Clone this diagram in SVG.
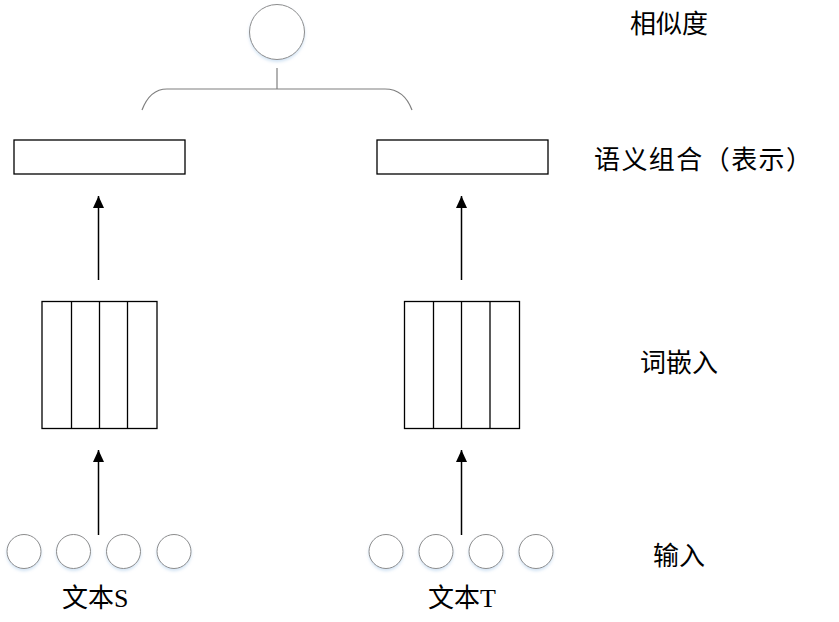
<svg xmlns="http://www.w3.org/2000/svg" width="839" height="622" viewBox="0 0 839 622">
<style>
.bg{fill:#fff}
.circ{fill:#fff;stroke:#8c8c8c;stroke-width:1;filter:url(#sh)}
.box{fill:#fff;stroke:#000;stroke-width:1.3}
.div{stroke:#000;stroke-width:1.3}
.edge{stroke:#000;stroke-width:1.5;fill:none}
.bracket{stroke:#7f7f7f;stroke-width:1.2;fill:none}
.lbl{font-family:"Liberation Serif","Noto Sans CJK SC",serif;font-size:26px;fill:#000}
</style>
<defs>
<marker id="ah" markerWidth="12" markerHeight="11" refX="12" refY="5.5" orient="auto" markerUnits="userSpaceOnUse" viewBox="0 0 12 11">
<path d="M0,0 L12,5.5 L0,11 z" fill="#000"/>
</marker>
<filter id="sh" x="-30%" y="-30%" width="160%" height="170%">
<feDropShadow dx="0" dy="2" stdDeviation="1.5" flood-color="#9fc3e6" flood-opacity="0.45"/>
</filter>
</defs>
<rect class="bg" x="0" y="0" width="839" height="622"/>

<g id="similarity">
<circle class="circ" cx="277" cy="32" r="27.5"/>
</g>

<g id="compose-S">
<rect class="box" x="14" y="140" width="171" height="34"/>
</g>
<g id="compose-T">
<rect class="box" x="377" y="140" width="171" height="34"/>
</g>

<g id="embed-S">
<rect class="box" x="42" y="301.5" width="115" height="127"/>
<line class="div" x1="71.5" y1="301.5" x2="71.5" y2="428.5"/>
<line class="div" x1="99.5" y1="301.5" x2="99.5" y2="428.5"/>
<line class="div" x1="127.5" y1="301.5" x2="127.5" y2="428.5"/>
</g>
<g id="embed-T">
<rect class="box" x="404.5" y="301.5" width="115" height="127"/>
<line class="div" x1="433.5" y1="301.5" x2="433.5" y2="428.5"/>
<line class="div" x1="461.5" y1="301.5" x2="461.5" y2="428.5"/>
<line class="div" x1="490" y1="301.5" x2="490" y2="428.5"/>
</g>

<g id="input-S">
<circle class="circ" cx="24" cy="551.5" r="17"/>
<circle class="circ" cx="73.5" cy="551.5" r="17"/>
<circle class="circ" cx="123.5" cy="551.5" r="17"/>
<circle class="circ" cx="174" cy="551.5" r="17"/>
</g>
<g id="input-T">
<circle class="circ" cx="386" cy="551.5" r="17"/>
<circle class="circ" cx="436" cy="551.5" r="17"/>
<circle class="circ" cx="486" cy="551.5" r="17"/>
<circle class="circ" cx="536" cy="551.5" r="17"/>
</g>

<g id="connectors">
<line class="bracket" x1="277" y1="68" x2="277" y2="89"/>
<path class="bracket" d="M142,110 Q150,89 167,89 H385 Q404,89 412,110"/>
<line class="edge" x1="98.5" y1="280" x2="98.5" y2="196" marker-end="url(#ah)"/>
<line class="edge" x1="461.5" y1="280" x2="461.5" y2="196" marker-end="url(#ah)"/>
<line class="edge" x1="98.5" y1="535" x2="98.5" y2="450" marker-end="url(#ah)"/>
<line class="edge" x1="461.5" y1="535" x2="461.5" y2="450" marker-end="url(#ah)"/>
</g>

<g id="labels">
<text class="lbl" x="630" y="33">相似度</text>
<text class="lbl" x="594" y="169" textLength="218" lengthAdjust="spacing">语义组合（表示）</text>
<text class="lbl" x="640" y="372">词嵌入</text>
<text class="lbl" x="653" y="565">输入</text>
<text class="lbl" x="62" y="607">文本S</text>
<text class="lbl" x="428" y="607">文本T</text>
</g>
</svg>
